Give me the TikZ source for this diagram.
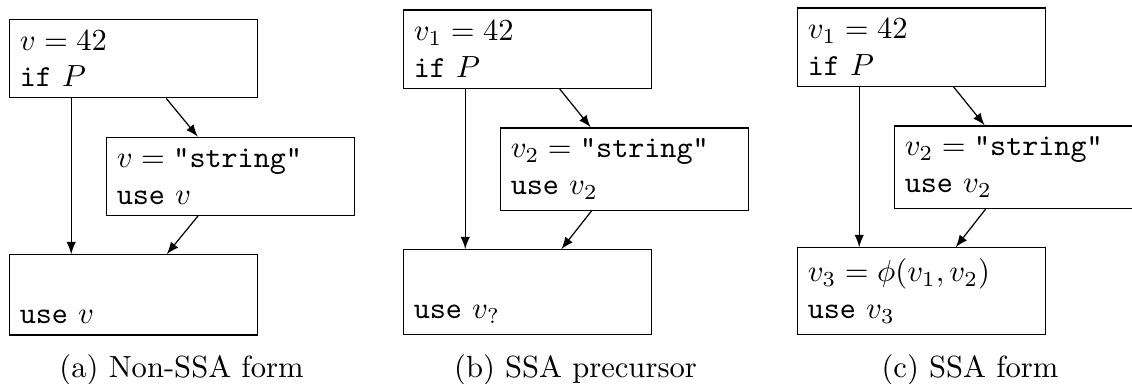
\documentclass[tikz,border=0pt]{standalone}
\usepackage{amsmath}
\usetikzlibrary{arrows.meta, positioning, calc}

\begin{document}
\begin{tikzpicture}[
    box/.style={rectangle, draw, text width=74.3pt, inner xsep=3.33pt, inner ysep=3.6pt, align=left},
    arr/.style={->},
    >=latex
]
\useasboundingbox (0,0) rectangle (13.002,-4.399);

% --- Non-SSA form ---
\node[box, anchor=north west] (a_top) at (0.103,-0.215) {$v = 42$\\ \texttt{if} $P$};
\node[box, below=0.44cm of a_top.south west, anchor=north west, xshift=1.114cm] (a_mid) {$v = \texttt{"string"}$\\ \texttt{use} $v$};
\node[box, below=0.44cm of a_mid.south west, anchor=north west, xshift=-1.114cm] (a_bot) {$\vphantom{\phi}$\\ \texttt{use} $v$};
\draw[arr] ($(a_top.south west)!.25!(a_top.south east)$) -- ($(a_bot.north west)!.25!(a_bot.north east)$);
\draw[arr] (a_top) -- (a_mid);
\draw[arr] (a_mid) -- (a_bot);
\node[anchor=base] (a_cap) at (2.085,-4.336) {(a) Non-SSA form};

% --- SSA precursor ---
\node[box, anchor=north west] (b_top) at (4.629,-0.107) {$v_1 = 42$\\ \texttt{if} $P$};
\node[box, below=0.44cm of b_top.south west, anchor=north west, xshift=1.114cm] (b_mid) {$v_2 = \texttt{"string"}$\\ \texttt{use} $v_2$};
\node[box, below=0.44cm of b_mid.south west, anchor=north west, xshift=-1.114cm] (b_bot) {$\vphantom{\phi}$\\ \texttt{use} $v_?$};
\draw[arr] ($(b_top.south west)!.25!(b_top.south east)$) -- ($(b_bot.north west)!.25!(b_bot.north east)$);
\draw[arr] (b_top) -- (b_mid);
\draw[arr] (b_mid) -- (b_bot);
\node[anchor=base] (b_cap) at (6.610,-4.336) {(b) SSA precursor};

% --- SSA form ---
\node[box, anchor=north west] (c_top) at (9.154,-0.084) {$v_1 = 42$\\ \texttt{if} $P$};
\node[box, below=0.44cm of c_top.south west, anchor=north west, xshift=1.114cm] (c_mid) {$v_2 = \texttt{"string"}$\\ \texttt{use} $v_2$};
\node[box, below=0.44cm of c_mid.south west, anchor=north west, xshift=-1.114cm] (c_bot) {$v_3 = \phi(v_1, v_2)$\\ \texttt{use} $v_3$};
\draw[arr] ($(c_top.south west)!.25!(c_top.south east)$) -- ($(c_bot.north west)!.25!(c_bot.north east)$);
\draw[arr] (c_top) -- (c_mid);
\draw[arr] (c_mid) -- (c_bot);
\node[anchor=base] (c_cap) at (11.141,-4.336) {(c) SSA form};
\end{tikzpicture}
\end{document}
